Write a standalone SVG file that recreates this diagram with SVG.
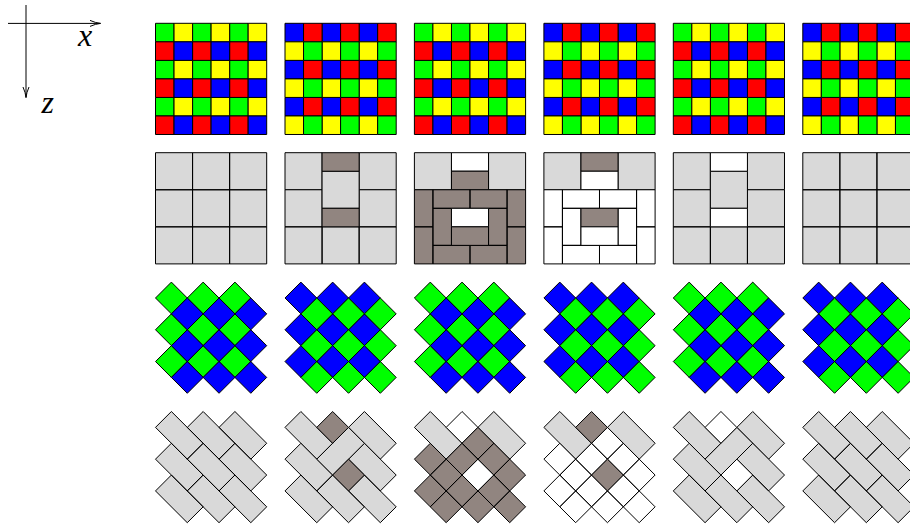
<svg xmlns="http://www.w3.org/2000/svg" width="910" height="525" viewBox="0 0 910 525">
<style>
path{stroke:#000;stroke-width:1;stroke-linejoin:miter;vector-effect:non-scaling-stroke}
.g{fill:#0f0}.y{fill:#ff0}.r{fill:#f00}.b{fill:#00f}
.l{fill:#d9d9d9}.d{fill:#918580}.w{fill:#fff}
.axis{fill:none;stroke:#000;stroke-width:1}
.lab{font-family:"Liberation Serif","Times New Roman",serif;font-style:italic;font-size:32px;fill:#000}
</style>
<defs>
<marker id="arr" markerUnits="userSpaceOnUse" markerWidth="14" markerHeight="10" refX="12" refY="5" orient="auto" overflow="visible">
<path d="M1.5 2Q7 4.5 12 5Q7 5.5 1.5 8" fill="none" stroke="#000" stroke-width="1"/>
</marker>
<path id="ee" d="M0 0h1v1h-1zM2 0h1v1h-1zM4 0h1v1h-1zM0 2h1v1h-1zM2 2h1v1h-1zM4 2h1v1h-1zM0 4h1v1h-1zM2 4h1v1h-1zM4 4h1v1h-1z"/>
<path id="oe" d="M1 0h1v1h-1zM3 0h1v1h-1zM5 0h1v1h-1zM1 2h1v1h-1zM3 2h1v1h-1zM5 2h1v1h-1zM1 4h1v1h-1zM3 4h1v1h-1zM5 4h1v1h-1z"/>
<path id="eo" d="M0 1h1v1h-1zM2 1h1v1h-1zM4 1h1v1h-1zM0 3h1v1h-1zM2 3h1v1h-1zM4 3h1v1h-1zM0 5h1v1h-1zM2 5h1v1h-1zM4 5h1v1h-1z"/>
<path id="oo" d="M1 1h1v1h-1zM3 1h1v1h-1zM5 1h1v1h-1zM1 3h1v1h-1zM3 3h1v1h-1zM5 3h1v1h-1zM1 5h1v1h-1zM3 5h1v1h-1zM5 5h1v1h-1z"/>
<path id="sides" d="M0 0h2v2h-2zM4 0h2v2h-2z"/>
<path id="lower" d="M0 2h2v2h-2zM4 2h2v2h-2zM0 4h2v2h-2zM2 4h2v2h-2zM4 4h2v2h-2z"/>
<path id="tall" d="M2 1h2v2h-2z"/>
<path id="capA" d="M2 0h2v1h-2z"/>
<path id="capB" d="M2 1h2v1h-2z"/>
<path id="capC" d="M2 3h2v1h-2z"/>
<path id="capD" d="M2 4h2v1h-2z"/>
<path id="ring" d="M0 2h1v2h-1zM0 4h1v2h-1zM1 2h2v1h-2zM3 2h2v1h-2zM5 2h1v2h-1zM5 4h1v2h-1zM1 3h1v2h-1zM4 3h1v2h-1zM1 5h2v1h-2zM3 5h2v1h-2z"/>
<path id="base" d="M0 0h2v2h-2zM2 0h2v2h-2zM4 0h2v2h-2zM0 2h2v2h-2zM2 2h2v2h-2zM4 2h2v2h-2zM0 4h2v2h-2zM2 4h2v2h-2zM4 4h2v2h-2z"/>
<path id="dodd" d="M0 1l1-1 1 1-1 1zM2 1l1-1 1 1-1 1zM4 1l1-1 1 1-1 1zM0 3l1-1 1 1-1 1zM2 3l1-1 1 1-1 1zM4 3l1-1 1 1-1 1zM0 5l1-1 1 1-1 1zM2 5l1-1 1 1-1 1zM4 5l1-1 1 1-1 1z"/>
<path id="deven" d="M1 2l1-1 1 1-1 1zM3 2l1-1 1 1-1 1zM5 2l1-1 1 1-1 1zM1 4l1-1 1 1-1 1zM3 4l1-1 1 1-1 1zM5 4l1-1 1 1-1 1zM1 6l1-1 1 1-1 1zM3 6l1-1 1 1-1 1zM5 6l1-1 1 1-1 1z"/>
<path id="hall" d="M0 1l1-1 2 2-1 1zM2 1l1-1 2 2-1 1zM4 1l1-1 2 2-1 1zM0 3l1-1 2 2-1 1zM2 3l1-1 2 2-1 1zM4 3l1-1 2 2-1 1zM0 5l1-1 2 2-1 1zM2 5l1-1 2 2-1 1zM4 5l1-1 2 2-1 1z"/>
<path id="htop" d="M0 1l1-1 2 2-1 1zM4 1l1-1 2 2-1 1z"/>
<path id="hrest" d="M0 3l1-1 2 2-1 1zM4 3l1-1 2 2-1 1zM0 5l1-1 2 2-1 1zM2 5l1-1 2 2-1 1zM4 5l1-1 2 2-1 1z"/>
<path id="hcross" d="M2 3l2-2 1 1-2 2z"/>
<path id="s1" d="M2 1l1-1 1 1-1 1z"/>
<path id="s2" d="M3 4l1-1 1 1-1 1z"/>
<path id="sring" d="M3 2l1-1 1 1-1 1zM2 3l1-1 1 1-1 1zM4 3l1-1 1 1-1 1zM0 3l1-1 1 1-1 1zM1 4l1-1 1 1-1 1zM5 4l1-1 1 1-1 1zM0 5l1-1 1 1-1 1zM2 5l1-1 1 1-1 1zM4 5l1-1 1 1-1 1zM1 6l1-1 1 1-1 1zM3 6l1-1 1 1-1 1zM5 6l1-1 1 1-1 1z"/>
</defs>

<g id="connectors">
<path class="axis" d="M8 23.4H100.5" marker-end="url(#arr)"/>
<path class="axis" d="M26 5V97.5" marker-end="url(#arr)"/>
</g>
<g id="label-x"><text class="lab" x="78" y="46">x</text></g>
<g id="label-z"><text class="lab" x="41.5" y="112.5">z</text></g>

<g id="r1p1" transform="translate(155.5 23.3) scale(18.533)"><use href="#ee" class="g"/><use href="#oe" class="y"/><use href="#eo" class="r"/><use href="#oo" class="b"/></g>
<g id="r1p2" transform="translate(285 23.3) scale(18.533)"><use href="#ee" class="b"/><use href="#oe" class="r"/><use href="#eo" class="y"/><use href="#oo" class="g"/></g>
<g id="r1p3" transform="translate(414.4 23.3) scale(18.533)"><use href="#ee" class="g"/><use href="#oe" class="y"/><use href="#eo" class="r"/><use href="#oo" class="b"/></g>
<g id="r1p4" transform="translate(543.9 23.3) scale(18.533)"><use href="#ee" class="b"/><use href="#oe" class="r"/><use href="#eo" class="y"/><use href="#oo" class="g"/></g>
<g id="r1p5" transform="translate(673.3 23.3) scale(18.533)"><use href="#ee" class="g"/><use href="#oe" class="y"/><use href="#eo" class="r"/><use href="#oo" class="b"/></g>
<g id="r1p6" transform="translate(802.8 23.3) scale(18.533)"><use href="#ee" class="b"/><use href="#oe" class="r"/><use href="#eo" class="y"/><use href="#oo" class="g"/></g>

<g id="r2p1" transform="translate(155.5 152.7) scale(18.533)"><use href="#base" class="l"/></g>
<g id="r2p2" transform="translate(285 152.7) scale(18.533)"><use href="#sides" class="l"/><use href="#lower" class="l"/><use href="#tall" class="l"/><use href="#capA" class="d"/><use href="#capC" class="d"/></g>
<g id="r2p3" transform="translate(414.4 152.7) scale(18.533)"><use href="#sides" class="l"/><use href="#capA" class="w"/><use href="#capB" class="d"/><use href="#ring" class="d"/><use href="#capC" class="w"/><use href="#capD" class="d"/></g>
<g id="r2p4" transform="translate(543.9 152.7) scale(18.533)"><use href="#sides" class="l"/><use href="#capA" class="d"/><use href="#capB" class="w"/><use href="#ring" class="w"/><use href="#capC" class="d"/><use href="#capD" class="w"/></g>
<g id="r2p5" transform="translate(673.3 152.7) scale(18.533)"><use href="#sides" class="l"/><use href="#lower" class="l"/><use href="#tall" class="l"/><use href="#capA" class="w"/><use href="#capC" class="w"/></g>
<g id="r2p6" transform="translate(802.8 152.7) scale(18.533)"><use href="#base" class="l"/></g>

<g id="r3p1" transform="translate(155.5 282.1) scale(15.886)"><use href="#dodd" class="g"/><use href="#deven" class="b"/></g>
<g id="r3p2" transform="translate(285 282.1) scale(15.886)"><use href="#dodd" class="b"/><use href="#deven" class="g"/></g>
<g id="r3p3" transform="translate(414.4 282.1) scale(15.886)"><use href="#dodd" class="g"/><use href="#deven" class="b"/></g>
<g id="r3p4" transform="translate(543.9 282.1) scale(15.886)"><use href="#dodd" class="b"/><use href="#deven" class="g"/></g>
<g id="r3p5" transform="translate(673.3 282.1) scale(15.886)"><use href="#dodd" class="g"/><use href="#deven" class="b"/></g>
<g id="r3p6" transform="translate(802.8 282.1) scale(15.886)"><use href="#dodd" class="b"/><use href="#deven" class="g"/></g>

<g id="r4p1" transform="translate(155.5 411.5) scale(15.886)"><use href="#hall" class="l"/></g>
<g id="r4p2" transform="translate(285 411.5) scale(15.886)"><use href="#htop" class="l"/><use href="#hrest" class="l"/><use href="#hcross" class="l"/><use href="#s1" class="d"/><use href="#s2" class="d"/></g>
<g id="r4p3" transform="translate(414.4 411.5) scale(15.886)"><use href="#htop" class="l"/><use href="#s1" class="w"/><use href="#s2" class="w"/><use href="#sring" class="d"/></g>
<g id="r4p4" transform="translate(543.9 411.5) scale(15.886)"><use href="#htop" class="l"/><use href="#sring" class="w"/><use href="#s1" class="d"/><use href="#s2" class="d"/></g>
<g id="r4p5" transform="translate(673.3 411.5) scale(15.886)"><use href="#htop" class="l"/><use href="#hrest" class="l"/><use href="#hcross" class="l"/><use href="#s1" class="w"/><use href="#s2" class="w"/></g>
<g id="r4p6" transform="translate(802.8 411.5) scale(15.886)"><use href="#hall" class="l"/></g>
</svg>
